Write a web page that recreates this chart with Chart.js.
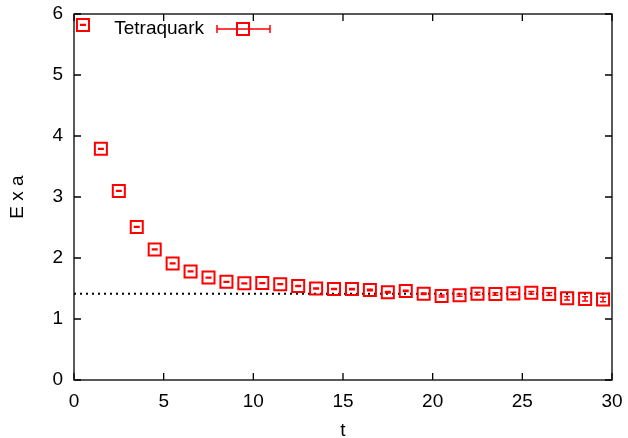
<!DOCTYPE html>
<html>
<head>
<meta charset="utf-8">
<script src="https://cdn.jsdelivr.net/npm/chart.js@4"></script>
<style>
html,body{margin:0;padding:0;background:#fff;}
#wrap{width:628px;height:438px;position:relative;}
</style>
</head>
<body>
<div id="wrap"><canvas id="chart" width="628" height="438"></canvas></div>
<script>
const tValues = [0.5,1.5,2.5,3.5,4.5,5.5,6.5,7.5,8.5,9.5,10.5,11.5,12.5,13.5,14.5,15.5,16.5,17.5,18.5,19.5,20.5,21.5,22.5,23.5,24.5,25.5,26.5,27.5,28.5,29.5];
const energy = [5.82,3.79,3.10,2.51,2.14,1.91,1.78,1.68,1.61,1.585,1.59,1.57,1.54,1.50,1.49,1.49,1.475,1.44,1.46,1.415,1.377,1.39,1.415,1.41,1.42,1.43,1.41,1.34,1.33,1.32];
const energyErr = [0.006,0.006,0.006,0.006,0.006,0.006,0.006,0.006,0.006,0.006,0.006,0.006,0.008,0.008,0.008,0.01,0.012,0.012,0.01,0.012,0.018,0.018,0.022,0.02,0.02,0.022,0.025,0.03,0.035,0.038];
const plateau = 1.415;
const plateauRange = [0, 30];
const xTicks = [0,5,10,15,20,25,30];
const yTicks = [0,1,2,3,4,5,6];
const seriesName = "Tetraquark";

const RED = "#ff0000";
const FONT = "'Liberation Sans', Arial, sans-serif";
const FSIZE = 19;

const frame = {
  id: "frame",
  afterDatasetsDraw(chart){
    const ctx = chart.ctx, a = chart.chartArea;
    const xs = chart.scales.x, ys = chart.scales.y;
    ctx.save();
    // error bars
    ctx.strokeStyle = RED;
    ctx.lineWidth = 1.5;
    tValues.forEach((t,i)=>{
      const px = xs.getPixelForValue(t);
      const top = ys.getPixelForValue(energy[i]+energyErr[i]);
      const bot = ys.getPixelForValue(energy[i]-energyErr[i]);
      ctx.beginPath();
      ctx.moveTo(px, top); ctx.lineTo(px, bot);
      ctx.moveTo(px-3, top); ctx.lineTo(px+3, top);
      ctx.moveTo(px-3, bot); ctx.lineTo(px+3, bot);
      ctx.stroke();
    });
    // border and inward ticks
    ctx.strokeStyle = "#000";
    ctx.lineWidth = 1.3;
    ctx.strokeRect(a.left, a.top, a.right-a.left, a.bottom-a.top);
    ctx.beginPath();
    xTicks.forEach(v=>{
      const px = xs.getPixelForValue(v);
      ctx.moveTo(px, a.bottom); ctx.lineTo(px, a.bottom-7);
      ctx.moveTo(px, a.top); ctx.lineTo(px, a.top+7);
    });
    yTicks.forEach(v=>{
      const py = ys.getPixelForValue(v);
      ctx.moveTo(a.left, py); ctx.lineTo(a.left+7, py);
      ctx.moveTo(a.right, py); ctx.lineTo(a.right-7, py);
    });
    ctx.stroke();
    // legend
    const ly = 29;
    ctx.fillStyle = "#000";
    ctx.font = FSIZE + "px " + FONT;
    ctx.textAlign = "right";
    ctx.textBaseline = "middle";
    ctx.fillText(seriesName, 204, ly);
    ctx.strokeStyle = RED;
    ctx.lineWidth = 1.5;
    ctx.beginPath();
    ctx.moveTo(217, ly); ctx.lineTo(270, ly);
    ctx.moveTo(217, ly-4); ctx.lineTo(217, ly+4);
    ctx.moveTo(270, ly-4); ctx.lineTo(270, ly+4);
    ctx.stroke();
    ctx.lineWidth = 2;
    ctx.strokeRect(237, ly-6, 12, 12);
    ctx.restore();
  }
};

new Chart(document.getElementById("chart"), {
  type: "scatter",
  data: {
    datasets: [
      {
        label: seriesName,
        data: tValues.map((t,i)=>({x:t, y:energy[i]})),
        pointStyle: "rect",
        pointRadius: 8.5,
        pointHoverRadius: 8.5,
        pointBorderWidth: 2,
        pointBorderColor: RED,
        pointBackgroundColor: "rgba(0,0,0,0)",
        showLine: false
      },
      {
        label: "plateau",
        data: plateauRange.map(x=>({x:x, y:plateau})),
        showLine: true,
        borderColor: "#000",
        borderWidth: 2,
        borderDash: [2, 4],
        pointRadius: 0,
        fill: false
      }
    ]
  },
  options: {
    responsive: false,
    animation: false,
    events: [],
    layout: { padding: { left: 0, right: 16, top: 14, bottom: 0 } },
    plugins: { legend: { display: false }, tooltip: { enabled: false } },
    scales: {
      x: {
        type: "linear", min: 0, max: 30,
        afterBuildTicks: s => { s.ticks = xTicks.map(v=>({value:v})); },
        afterFit: s => { s.height = 58; s.paddingLeft = 0; s.paddingRight = 0; },
        grid: { display: false, drawTicks: false },
        border: { display: false },
        ticks: { color: "#000", font: { family: FONT, size: FSIZE }, padding: 10, maxRotation: 0 },
        title: { display: true, text: "t", color: "#000", font: { family: FONT, size: FSIZE }, padding: { top: 2, bottom: -4 } }
      },
      y: {
        type: "linear", min: 0, max: 6,
        afterBuildTicks: s => { s.ticks = yTicks.map(v=>({value:v})); },
        afterFit: s => { s.width = 74; s.paddingTop = 0; s.paddingBottom = 0; },
        grid: { display: false, drawTicks: false },
        border: { display: false },
        ticks: { color: "#000", font: { family: FONT, size: FSIZE }, padding: 11 },
        title: { display: true, text: "E x a", color: "#000", font: { family: FONT, size: FSIZE }, padding: { top: 6, bottom: 4 } }
      }
    }
  },
  plugins: [frame]
});
</script>
</body>
</html>
